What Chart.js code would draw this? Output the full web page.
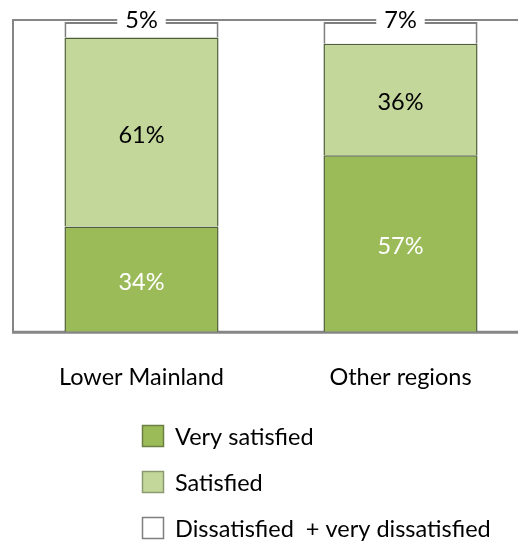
<!DOCTYPE html>
<html>
<head>
<meta charset="utf-8">
<script src="https://cdn.jsdelivr.net/npm/chart.js@4/dist/chart.umd.min.js"></script>
<style>
  html, body { margin: 0; padding: 0; background: #fff; }
  #clip { width: 518px; height: 543px; overflow: hidden; position: relative; }
  #wrap { width: 530px; height: 543px; position: relative; }
</style>
</head>
<body>
<div id="clip"><div id="wrap"><canvas id="satChart"></canvas></div></div>
<script>
const regions = ['Lower Mainland', 'Other regions'];
const verySatisfied = [34, 57];
const satisfied = [61, 36];
const dissatisfied = [5, 7];
const seriesNames = ['Very satisfied', 'Satisfied', 'Dissatisfied  + very dissatisfied'];

const FONT = 'Lato, "DejaVu Sans", sans-serif';
const FSIZE = 23.5;

// plot frame: left, top and bottom edges in grey
const framePlugin = {
  id: 'frame',
  beforeDatasetsDraw(chart) {
    const { ctx, chartArea: a } = chart;
    ctx.save();
    ctx.strokeStyle = '#868686';
    ctx.lineWidth = 2;
    ctx.beginPath();
    ctx.moveTo(a.left + 1, a.bottom);
    ctx.lineTo(a.left + 1, a.top - 2);
    ctx.lineTo(a.right, a.top - 2);
    ctx.stroke();
    ctx.lineWidth = 3;
    ctx.beginPath();
    ctx.moveTo(a.left, a.bottom + 0.5);
    ctx.lineTo(a.right, a.bottom + 0.5);
    ctx.stroke();
    ctx.restore();
  }
};

// percentage labels inside / on top of the bars
const valueLabels = {
  id: 'valueLabels',
  afterDatasetsDraw(chart) {
    const { ctx } = chart;
    ctx.save();
    ctx.font = FSIZE + 'px ' + FONT;
    ctx.textAlign = 'center';
    ctx.textBaseline = 'middle';
    chart.data.datasets.forEach((ds, di) => {
      const meta = chart.getDatasetMeta(di);
      meta.data.forEach((bar, i) => {
        const { x, y, base } = bar.getProps(['x', 'y', 'base'], true);
        const txt = ds.data[i] + '%';
        if (di === 2) {
          const w = ctx.measureText(txt).width + 16;
          ctx.fillStyle = '#fff';
          ctx.fillRect(x - w / 2, y - 12, w, 18);
          ctx.fillStyle = '#000';
          ctx.fillText(txt, x, y - 2);
        } else {
          ctx.fillStyle = di === 0 ? '#fff' : '#000';
          ctx.fillText(txt, x, (y + base) / 2 + 3);
        }
      });
    });
    ctx.restore();
  }
};

// vertical legend under the axis labels
const stackedLegend = {
  id: 'stackedLegend',
  afterDraw(chart) {
    const { ctx } = chart;
    ctx.save();
    ctx.font = FSIZE + 'px ' + FONT;
    ctx.textBaseline = 'middle';
    chart.data.datasets.forEach((ds, i) => {
      const cy = 436 + i * 46;
      ctx.fillStyle = ds.backgroundColor;
      ctx.fillRect(142.5, cy - 10.5, 21, 21);
      ctx.strokeStyle = ds.legendBorder;
      ctx.lineWidth = 1.5;
      ctx.strokeRect(142.5, cy - 10.5, 21, 21);
      ctx.fillStyle = '#000';
      ctx.fillText(ds.label, 175, cy + 1);
    });
    ctx.restore();
  }
};

new Chart(document.getElementById('satChart'), {
  type: 'bar',
  data: {
    labels: regions,
    datasets: [
      {
        label: seriesNames[0],
        data: verySatisfied,
        backgroundColor: '#9bbb59',
        borderColor: '#4f5f38',
        legendBorder: '#6b7f45',
        borderWidth: 1.5
      },
      {
        label: seriesNames[1],
        data: satisfied,
        backgroundColor: '#c4d79b',
        borderColor: '#4f5f38',
        legendBorder: '#8a9a70',
        borderWidth: 1.5
      },
      {
        label: seriesNames[2],
        data: dissatisfied,
        backgroundColor: '#ffffff',
        borderColor: '#7f7f7f',
        legendBorder: '#7f7f7f',
        borderWidth: 2
      }
    ]
  },
  options: {
    responsive: true,
    maintainAspectRatio: false,
    animation: false,
    categoryPercentage: 1,
    barPercentage: 0.595,
    layout: { padding: { left: 12, right: 0, top: 22, bottom: 119 } },
    plugins: {
      legend: { display: false },
      tooltip: { enabled: false }
    },
    scales: {
      x: {
        stacked: true,
        grid: { display: false, drawTicks: false },
        border: { display: false },
        ticks: { color: '#000', padding: 32, font: { family: FONT, size: FSIZE } }
      },
      y: {
        stacked: true,
        display: false,
        min: 0,
        max: 100
      }
    }
  },
  plugins: [framePlugin, valueLabels, stackedLegend]
});
</script>
</body>
</html>
